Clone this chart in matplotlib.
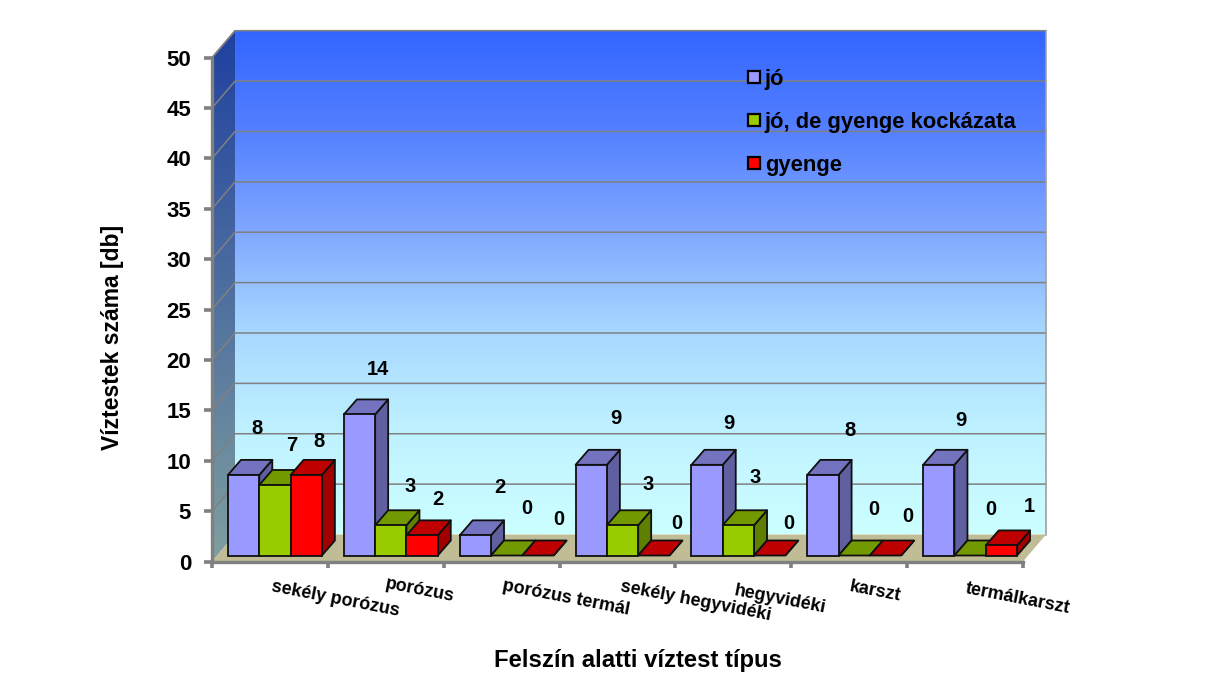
import numpy as np
import matplotlib
matplotlib.use('Agg')
import matplotlib.pyplot as plt
from matplotlib.colors import LinearSegmentedColormap
from matplotlib.lines import Line2D
from matplotlib.patches import Polygon

plt.rcParams['font.family'] = ['Liberation Sans', 'DejaVu Sans']
plt.rcParams['font.weight'] = 'bold'

categories = ['sekély porózus', 'porózus', 'porózus termál', 'sekély hegyvidéki',
              'hegyvidéki', 'karszt', 'termálkarszt']
series_names = ['jó', 'jó, de gyenge kockázata', 'gyenge']
jo = [8, 14, 2, 9, 9, 8, 9]
jo_de_gyenge = [7, 3, 0, 3, 3, 0, 0]
gyenge = [8, 2, 0, 0, 0, 0, 1]
y_ticks = [0, 5, 10, 15, 20, 25, 30, 35, 40, 45, 50]

series = [jo, jo_de_gyenge, gyenge]
colors = [('#9999FF', '#7373BF', '#6060A0'),
          ('#99CC00', '#739900', '#5F7F00'),
          ('#FF0000', '#BF0000', '#A00000')]

# hand placed data labels in the original, offset in pixels from bar top
label_dx = [[13, 17, 13], [18, 19, 16], [25, 20, 21], [25, 26, 23], [22, 17, 19], [27, 20, 22], [22, 21, 28]]
label_dy = [[46, 39, 33], [45, 39, 36], [48, 47, 36], [46, 41, 32], [41, 48, 32], [44, 46, 39], [44, 46, 39]]
cat_dx = [65, 34, 64, 78, 47, 26, 53]
cat_dy = [-38, -29, -36, -40, -38, -30, -37]

W, H = 1228, 685
AX_L, AX_R, AX_B, AX_T = 212, 1023, 561.5, 57.7
PX = (AX_R - AX_L) / 7.0   # pixels per category
PY = (AX_B - AX_T) / 50.0  # pixels per y unit
GRAY = '#808080'

fig = plt.figure(figsize=(W / 100, H / 100), dpi=100, facecolor='white')
ax = fig.add_axes([AX_L / W, (H - AX_B) / H, (AX_R - AX_L) / W, (AX_B - AX_T) / H])
ax.patch.set_visible(False)

wx, wy = 23 / PX, 27 / PY    # wall depth
bx, by = 13 / PX, 15 / PY    # bar depth
base = 6 / PY
start = 16 / PX
bw = 31.3 / PX

# walls
cmap = LinearSegmentedColormap.from_list('wall', [(0, '#3366FF'), (0.2, '#5480FF'), (0.4, '#80A8FF'),
                                                  (0.6, '#A8D8FF'), (0.8, '#BFF2FF'), (1, '#CCFFFF')])
grad = np.linspace(0, 1, 256).reshape(-1, 1)
ax.imshow(grad, cmap=cmap, aspect='auto', extent=(wx, 7 + wx, wy, 50 + wy), zorder=1, clip_on=False)

side = Polygon([(0, 0), (wx, wy), (wx, 50 + wy), (0, 50)], closed=True, transform=ax.transData)
side_cmap = LinearSegmentedColormap.from_list('side', ['#1F40A0', '#7F9F9F'])
im = ax.imshow(grad, cmap=side_cmap, aspect='auto', extent=(0, wx, 0, 50 + wy), zorder=1)
im.set_clip_box(fig.bbox)
im.set_clip_path(side)

ax.add_patch(Polygon([(0, 0), (7, 0), (7 + wx, wy), (wx, wy)], closed=True,
                     fc='#BFBC96', ec='none', zorder=2, clip_on=False))

# gridlines on both walls
for t in y_ticks[1:]:
    ax.plot([0, wx, 7 + wx], [t, t + wy, t + wy], color=GRAY, lw=1.1, zorder=2, clip_on=False)
ax.plot([7 + wx, 7 + wx], [wy, 50 + wy], color='#A0A0A0', lw=1.2, zorder=2, clip_on=False)
ax.plot([0, wx], [50, 50 + wy], color=GRAY, lw=1.1, zorder=2, clip_on=False)

# bars, left to right so the later ones hide the side of the earlier ones
z = 3
for i in range(len(categories)):
    for j, vals in enumerate(series):
        v = vals[i]
        x0 = i + start + j * bw
        front, top, right = colors[j]
        kw = dict(closed=True, ec='#101010', lw=1.3, joinstyle='round', clip_on=False, zorder=z)
        ax.add_patch(Polygon([(x0 + bw, base), (x0 + bw + bx, base + by),
                              (x0 + bw + bx, base + v + by), (x0 + bw, base + v)], fc=right, **kw))
        ax.add_patch(Polygon([(x0, base + v), (x0 + bx, base + v + by),
                              (x0 + bw + bx, base + v + by), (x0 + bw, base + v)], fc=top, **kw))
        if v > 0:
            ax.bar(x0, v, bw, bottom=base, align='edge', color=front, edgecolor='#101010',
                   linewidth=1.3, zorder=z, clip_on=False)
        z += 1

# data labels
for i in range(len(categories)):
    for j, vals in enumerate(series):
        ax.annotate(str(vals[i]), xy=(i + start + (j + 0.5) * bw, base + vals[i]),
                    xytext=(label_dx[i][j], label_dy[i][j]), textcoords='offset pixels',
                    ha='center', va='center', fontsize=14.5, color='black',
                    zorder=100, annotation_clip=False)

# category labels
for i, name in enumerate(categories):
    ax.annotate(name, xy=(i + 0.5, 0), xytext=(cat_dx[i], cat_dy[i]), textcoords='offset pixels',
                ha='center', va='center', rotation=-11, rotation_mode='anchor',
                fontsize=13, color='black', annotation_clip=False)

ax.set_xlim(0, 7)
ax.set_ylim(0, 50)
ax.set_xticks(range(8))
ax.set_xticklabels([])
ax.set_yticks(y_ticks)
ax.set_yticklabels([str(t) for t in y_ticks], fontsize=16)
ax.tick_params(axis='y', color=GRAY, width=2.6, length=6, pad=9)
ax.tick_params(axis='x', color=GRAY, width=2.6, length=4)
for s in ['top', 'right']:
    ax.spines[s].set_visible(False)
for s in ['left', 'bottom']:
    ax.spines[s].set_color(GRAY)
    ax.spines[s].set_linewidth(2.4)
    ax.spines[s].set_zorder(2.5)

ax.set_ylabel('Víztestek száma [db]', fontsize=16.5, fontweight='bold')
ax.yaxis.set_label_coords((113 - AX_L) / (AX_R - AX_L), (AX_B - 337) / (AX_B - AX_T))
ax.set_xlabel('Felszín alatti víztest típus', fontsize=17.2, fontweight='bold')
ax.xaxis.set_label_coords((638 - AX_L) / (AX_R - AX_L), (AX_B - 661) / (AX_B - AX_T), transform=ax.transAxes)
ax.xaxis.label.set_va('center')
ax.yaxis.label.set_va('center')

handles = [Line2D([], [], linestyle='None', marker='s', markersize=9, markerfacecolor=colors[k][0],
                  markeredgecolor='black', markeredgewidth=1.6) for k in range(3)]
leg = ax.legend(handles, series_names, loc='upper left', frameon=False, fontsize=15.8,
                bbox_to_anchor=((745 - AX_L) / (AX_R - AX_L), (AX_B - 69) / (AX_B - AX_T)),
                borderaxespad=0, borderpad=0, labelspacing=1.0, handlelength=0.8, handletextpad=0.1)
leg.set_zorder(101)

fig.savefig('out.png', dpi=100)
